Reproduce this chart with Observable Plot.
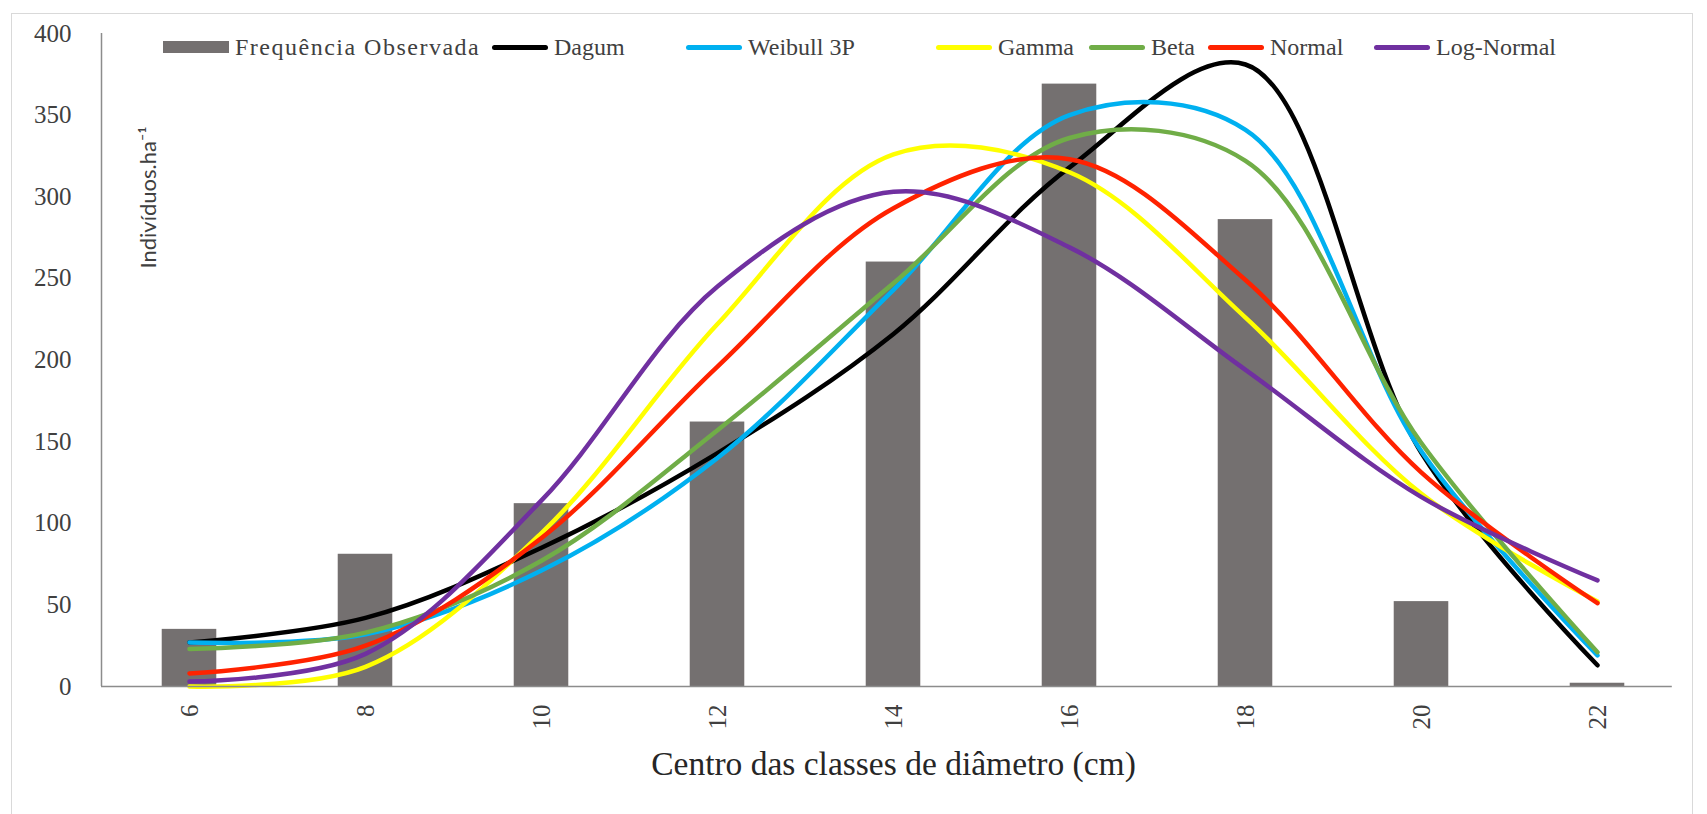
<!DOCTYPE html>
<html>
<head>
<meta charset="utf-8">
<script src="https://cdn.jsdelivr.net/npm/d3@7"></script>
<script src="https://cdn.jsdelivr.net/npm/@observablehq/plot@0.6"></script>
<style>
  html, body { margin: 0; padding: 0; background: #fff; }
  #wrap { position: relative; width: 1707px; height: 814px; overflow: hidden; }
  #frame { position: absolute; left: 11px; top: 13px; width: 1682px; height: 812px; border: 1.5px solid #d9d9d9; box-sizing: border-box; }
  #chart { position: absolute; left: 0; top: 0; }
  .lg { position: absolute; top: 34px; height: 26px; display: flex; align-items: center; white-space: nowrap;
        font-family: "Liberation Serif", "Times New Roman", serif; font-size: 24px; color: #404040; }
  .sw { display: inline-block; width: 56px; margin-right: 6px; }
</style>
</head>
<body>
<div id="wrap">
  <div id="frame"></div>
  <div id="chart"></div>
  <div id="legend"></div>
</div>
<script>
// ---- data ----
const xClasses = [6, 8, 10, 12, 14, 16, 18, 20, 22];
const observed = [35, 81, 112, 162, 260, 369, 286, 52, 2];
const dagum     = [27, 42, 85, 143, 216, 318, 381, 143, 13];
const weibull3p = [27, 32, 71, 140, 243, 350, 341, 144, 19];
const gamma     = [0, 12, 94, 222, 326, 315, 226, 118, 52];
const beta      = [23, 33, 77, 157, 247, 336, 322, 149, 21];
const normal    = [8, 25, 91, 196, 293, 323, 249, 131, 51];
const logNormal = [3, 20, 114, 245, 303, 269, 194, 116, 65];
const yTicks = [0, 50, 100, 150, 200, 250, 300, 350, 400];
const barName = "Frequência Observada";
const seriesNames  = ["Dagum", "Weibull 3P", "Gamma", "Beta", "Normal", "Log-Normal"];
const seriesValues = [dagum, weibull3p, gamma, beta, normal, logNormal];
const seriesColors = ["#000000", "#00B0F0", "#FFFF00", "#70AD47", "#FF2200", "#7030A0"];
const barColor = "#747070";
const xTitle = "Centro das classes de diâmetro (cm)";
const yTitle = "Indivíduos.ha⁻¹";

// ---- tables ----
const bars = xClasses.map((x, i) => ({x, y: observed[i]}));
const series = seriesNames.map((name, s) => xClasses.map((x, i) => ({x, y: seriesValues[s][i], name})));
const halfBar = 0.31;

const plot = Plot.plot({
  width: 1707,
  height: 814,
  marginLeft: 101,
  marginRight: 22,
  marginTop: 33,
  marginBottom: 128,
  style: { fontFamily: "'Liberation Serif', 'Times New Roman', serif", fontSize: "25px", color: "#404040", background: "transparent" },
  x: { type: "linear", domain: [5, 23] },
  y: { domain: [0, 400] },
  marks: [
    Plot.rectY(bars, { x1: d => d.x - halfBar, x2: d => d.x + halfBar, y: "y", fill: barColor }),
    ...series.map((pts, s) => Plot.line(pts, { x: "x", y: "y", stroke: seriesColors[s], strokeWidth: 4.5, curve: "catmull-rom" })),
    Plot.ruleX([5], { stroke: "#8c8c8c", strokeWidth: 1.5 }),
    Plot.ruleY([0], { x1: 5, x2: 22.85, stroke: "#8c8c8c", strokeWidth: 1.5 }),
    Plot.axisY({ ticks: yTicks, tickSize: 0, tickPadding: 30, label: null, fontSize: 25 }),
    Plot.axisX({ ticks: xClasses, tickSize: 0, tickRotate: -90, tickPadding: 18, label: null, fontSize: 25 }),
    Plot.text([xTitle], { frameAnchor: "bottom", dy: 88, fontSize: 33.5, fill: "#262626" }),
    Plot.text([yTitle], { frameAnchor: "top-left", dx: 47, dy: 164, rotate: -90, fontSize: 22,
      textAnchor: "middle", lineAnchor: "middle",
      fontFamily: "Lato, 'Open Sans', sans-serif", fill: "#404040" })
  ]
});
document.getElementById("chart").appendChild(plot);

// ---- legend ----
const legendLeft = [163, 492, 686, 936, 1089, 1208, 1374];
const legend = document.getElementById("legend");
const entries = [{name: barName, color: barColor, bar: true}].concat(seriesNames.map((n, i) => ({name: n, color: seriesColors[i]})));
entries.forEach((e, i) => {
  const item = document.createElement("div");
  item.className = "lg";
  item.style.left = legendLeft[i] + "px";
  const sw = document.createElement("span");
  sw.className = "sw";
  sw.style.background = e.color;
  sw.style.height = e.bar ? "12px" : "5px";
  sw.style.borderRadius = e.bar ? "0" : "3px";
  if (e.bar) sw.style.width = "66px";
  const t = document.createElement("span");
  t.textContent = e.name;
  if (e.bar) t.style.letterSpacing = "1.5px";
  item.appendChild(sw);
  item.appendChild(t);
  legend.appendChild(item);
});
</script>
</body>
</html>
